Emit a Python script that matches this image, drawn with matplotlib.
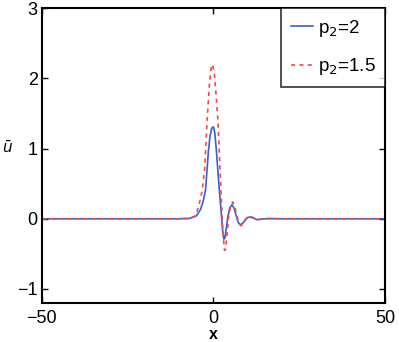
import matplotlib
matplotlib.use("Agg")
import matplotlib.pyplot as plt

plt.rcParams['font.family'] = ['Liberation Sans', 'DejaVu Sans']

# p2 = 2 (solid blue)
x_p2_2 = [-50, -10, -7, -5, -3.8, -3.0, -2.3, -1.5, -1.0, -0.5, 0.0, 0.4, 0.8,
          1.2, 1.6, 2.0, 2.4, 2.7, 3.0, 3.3, 3.7, 4.2, 4.8, 5.4, 6.0, 6.6, 7.2,
          7.9, 8.6, 9.3, 10.0, 10.8, 11.6, 12.7, 14, 16, 20, 50]
y_p2_2 = [0, 0, 0.005, 0.04, 0.13, 0.25, 0.41, 0.95, 1.18, 1.29, 1.31, 1.22, 1.0,
          0.74, 0.48, 0.24, 0.0, -0.18, -0.29, -0.28, -0.15, 0.03, 0.16, 0.2, 0.15,
          0.05, -0.05, -0.09, -0.06, -0.01, 0.02, 0.025, 0.01, -0.012, -0.005, 0.003, 0, 0]

# p2 = 1.5 (dashed red)
x_p2_15 = [-50, -10, -7, -5.3, -4.3, -3.3, -2.6, -2.2, -1.8, -1.2, -0.7, -0.3, 0.2,
           0.7, 1.3, 1.6, 2.0, 2.4, 2.8, 3.2, 3.5, 3.9, 4.4, 5.0, 5.6, 6.2, 6.8,
           7.4, 8.0, 8.7, 9.4, 10.2, 11.0, 11.8, 12.8, 14, 16, 20, 50]
y_p2_15 = [0, 0, 0.005, 0.04, 0.18, 0.4, 0.7, 1.05, 1.45, 1.9, 2.14, 2.2, 2.1,
           1.8, 1.4, 1.05, 0.6, 0.15, -0.22, -0.45, -0.44, -0.25, 0.02, 0.19, 0.24,
           0.17, 0.05, -0.06, -0.1, -0.07, -0.01, 0.03, 0.03, 0.01, -0.015, -0.006,
           0.003, 0, 0]

xticks = [-50, 0, 50]
yticks = [-1, 0, 1, 2, 3]

fig = plt.figure(figsize=(3.99, 3.42), dpi=100)
ax = fig.add_axes([0.105, 0.114, 0.86, 0.862])

ax.plot(x_p2_2, y_p2_2, color='#3a5fcd', lw=1.2, label='p$_2$=2')
ax.plot(x_p2_15, y_p2_15, color='#f04a4a', lw=1.2, ls=(0, (2.5, 2.5)), label='p$_2$=1.5')

ax.set_xlim(-50, 50)
ax.set_ylim(-1.2, 3)
ax.set_xticks(xticks)
ax.set_yticks(yticks)
ax.set_yticklabels(['\u22121', '0', '1', '2', '3'])
ax.set_xticklabels(['\u221250', '0', '50'])
ax.tick_params(direction='in', length=4, width=1, labelsize=13, top=True, right=True)
ax.tick_params(axis='x', pad=5)
ax.tick_params(axis='y', pad=3)
for s in ax.spines.values():
    s.set_linewidth(1.5)

ax.set_xlabel('x', fontsize=11.5, fontweight='bold', labelpad=0)
ax.set_ylabel(r'$\bar{u}$', fontsize=11, rotation=0, va='center', ha='center')
ax.yaxis.set_label_coords(-0.099, 0.527)

leg = ax.legend(loc='upper right', fontsize=13.5, handlelength=1.2, handletextpad=0.25,
                borderaxespad=0, frameon=True, fancybox=False, borderpad=0.5,
                labelspacing=0.95)
leg.get_frame().set_edgecolor('black')
leg.get_frame().set_linewidth(1.2)

fig.savefig('out.png', dpi=100)
